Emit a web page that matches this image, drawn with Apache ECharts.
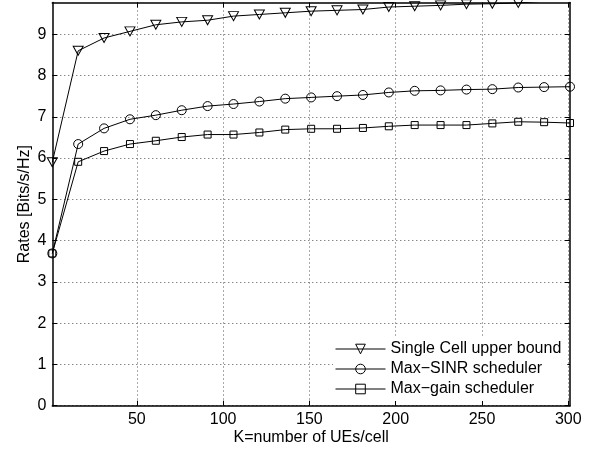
<!DOCTYPE html>
<html><head><meta charset="utf-8">
<script src="https://cdn.jsdelivr.net/npm/echarts@6/dist/echarts.min.js"></script>
<style>html,body{margin:0;padding:0;background:#fff}#c{width:596px;height:450px}</style>
</head><body><div id="c"></div>
<script>
const kValues = [1,16,31,46,61,76,91,106,121,136,151,166,181,196,211,226,241,256,271,286,301];
const upperBound = [5.90,8.60,8.91,9.07,9.23,9.30,9.34,9.44,9.48,9.52,9.56,9.58,9.60,9.66,9.68,9.70,9.73,9.74,9.76,9.80,9.82];
const maxSinr = [3.69,6.34,6.72,6.94,7.04,7.16,7.26,7.31,7.37,7.44,7.47,7.50,7.53,7.59,7.63,7.64,7.66,7.67,7.71,7.72,7.73];
const maxGain = [3.69,5.91,6.17,6.34,6.42,6.51,6.57,6.57,6.62,6.69,6.71,6.71,6.73,6.77,6.80,6.80,6.80,6.84,6.88,6.87,6.85];
const xTicks = [50,100,150,200,250,300];
const yTicks = [0,1,2,3,4,5,6,7,8,9];
const seriesNames = ['Single Cell upper bound','Max\u2212SINR scheduler','Max\u2212gain scheduler'];
const xTitle = 'K=number of UEs/cell';
const yTitle = 'Rates [Bits/s/Hz]';

const FONT = 'Liberation Sans';
const chart = echarts.init(document.getElementById('c'), null, {renderer:'canvas'});
function mk(name, ys, symbol, size, rotate){
  return {name, type:'line', data:kValues.map((k,i)=>[k,ys[i]]), symbol, symbolSize:size,
    symbolRotate:rotate||0, showAllSymbol:true, clip:true, z:5,
    lineStyle:{color:'#000', width:1}, itemStyle:{color:'rgba(0,0,0,0)', borderColor:'#000', borderWidth:1},
    emphasis:{disabled:true}};
}
const dotted = {show:true, lineStyle:{color:'#555', width:1, type:[1,3]}};
const axLine = {show:true, onZero:false, lineStyle:{color:'#000', width:1.5}};
const tick = (vals)=>({show:true, inside:true, length:5, customValues:vals, lineStyle:{color:'#000', width:1}});
chart.setOption({
  animation:false,
  backgroundColor:'#fff',
  grid:{left:52.3, right:26, top:2.5, bottom:44.3, containLabel:false, outerBoundsMode:'none'},
  xAxis:[
    {type:'value', min:1, max:301, position:'bottom', axisLine:axLine, axisTick:tick(xTicks),
     axisLabel:{customValues:xTicks, fontSize:16, color:'#000', fontFamily:FONT, margin:6},
     splitLine:dotted, name:xTitle, nameLocation:'middle', nameGap:24, nameMoveOverlap:false,
     nameTextStyle:{fontSize:16, color:'#000', fontFamily:FONT}},
    {type:'value', min:1, max:301, position:'top', axisLine:axLine, axisTick:tick(xTicks),
     axisLabel:{show:false}, splitLine:{show:false}}
  ],
  yAxis:[
    {type:'value', min:0, max:9.77, position:'left', axisLine:axLine, axisTick:tick(yTicks),
     axisLabel:{customValues:yTicks, fontSize:16, color:'#000', fontFamily:FONT, margin:6},
     splitLine:dotted, name:yTitle, nameLocation:'middle', nameGap:20, nameMoveOverlap:false,
     nameTextStyle:{fontSize:16, color:'#000', fontFamily:FONT}},
    {type:'value', min:0, max:9.77, position:'right', axisLine:axLine, axisTick:tick(yTicks),
     axisLabel:{show:false}, splitLine:{show:false}}
  ],
  legend:{orient:'vertical', left:333, top:337, padding:[4,6,4,2], backgroundColor:'#fff',
    itemWidth:50, itemHeight:12, itemGap:4, data:seriesNames,
    lineStyle:{width:1, color:'#000'},
    itemStyle:{color:'rgba(0,0,0,0)', borderColor:'#000', borderWidth:1},
    textStyle:{fontSize:16, color:'#000', fontFamily:FONT, lineHeight:16}},
  series:[
    mk(seriesNames[0], upperBound, 'triangle', [10,9], 180),
    mk(seriesNames[1], maxSinr, 'circle', 9),
    mk(seriesNames[2], maxGain, 'rect', 7)
  ]
});
</script></body></html>
